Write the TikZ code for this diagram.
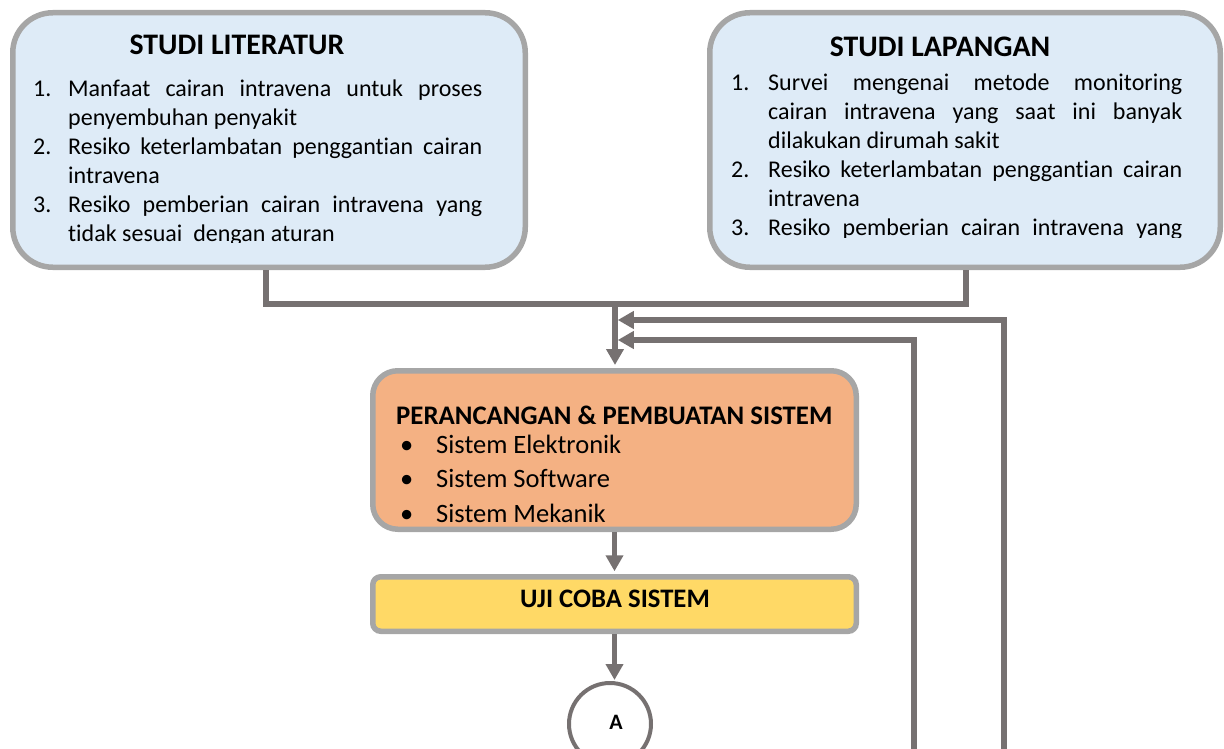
\documentclass[tikz,border=0pt]{standalone}
\usepackage{fontspec}
\setmainfont[Ligatures=NoCommon]{Carlito}
\usetikzlibrary{arrows.meta}
\definecolor{conncol}{HTML}{767171}
\definecolor{bordcol}{HTML}{A6A6A6}
\definecolor{bluefill}{HTML}{DEEBF7}
\definecolor{orangefill}{HTML}{F4B183}
\definecolor{yellowfill}{HTML}{FFD966}
\newcommand\jline[2]{\makebox[#1][s]{#2}}
\begin{document}
\begin{tikzpicture}[x=1pt,y=-1pt,
  box/.style={draw=bordcol,line width=5.5pt,rectangle,inner sep=0pt},
  conn/.style={draw=conncol,line width=5.5pt},
  arr/.style={conn,-{Triangle[length=16pt,width=17pt]}},
  ttl/.style={font=\fontsize{29.8pt}{34pt}\selectfont\bfseries,inner sep=0pt,anchor=base},
  body/.style={font=\fontsize{24pt}{29pt}\selectfont,inner sep=0pt,anchor=base west},
  sysbody/.style={font=\fontsize{26.5pt}{34.5pt}\selectfont,inner sep=0pt,anchor=base west}]
\useasboundingbox (0,0) rectangle (1224,749);

% connector coordinates
\coordinate (jl) at (266,304);
\coordinate (jr) at (966,304);
\coordinate (jc) at (615,304);
\coordinate (m1) at (615,320);
\coordinate (m2) at (615,340);
\coordinate (b1) at (1004,760);
\coordinate (b2) at (914,760);

% boxes
\node[box,fill=bluefill,rounded corners=40pt,minimum width=512.5pt,minimum height=254.5pt] (lit) at (269,140) {};
\node[box,fill=bluefill,rounded corners=40pt,minimum width=510.5pt,minimum height=254.5pt] (lap) at (965,140) {};
\node[box,fill=orangefill,rounded corners=25pt,minimum width=483.5pt,minimum height=158.5pt] (per) at (614.5,450) {};
\node[box,fill=yellowfill,rounded corners=8pt,minimum width=483.5pt,minimum height=54.5pt] (uji) at (614.5,604) {};
\node[circle,draw=conncol,line width=4pt,fill=white,minimum size=82pt,inner sep=0pt] (cA) at (610,724) {};

% connectors
\draw[conn] (lit.south -| jl) -- (jl) -- (jr) -- (lap.south -| jr);
\draw[arr,shorten >=3pt] (jc) -- (per.north -| jc);
\draw[arr,shorten >=2.75pt] (b1) |- (m1);
\draw[arr,shorten >=2.75pt] (b2) |- (m2);
\draw[arr,shorten >=2.75pt] (per.south) -- (uji.north);
\draw[arr,shorten >=1pt] (uji.south) -- (uji.south |- cA.north);

% texts of the upper boxes
\begin{scope}
\clip (0,0) rectangle (600,242.5);
\node[ttl] (litT) at (237,55) {STUDI LITERATUR};
\node[body] (litL) at (33,97) {\parbox[t]{449pt}{%
\makebox[35pt][l]{1.}\jline{414pt}{Manfaat cairan intravena untuk proses}\\
\hspace*{35pt}penyembuhan penyakit\\
\makebox[35pt][l]{2.}\jline{414pt}{Resiko keterlambatan penggantian cairan}\\
\hspace*{35pt}intravena\\
\makebox[35pt][l]{3.}\jline{414pt}{Resiko pemberian cairan intravena yang}\\
\hspace*{35pt}tidak sesuai\ \ dengan aturan}};
\end{scope}
\begin{scope}
\clip (600,0) rectangle (1224,237);
\node[ttl] (lapT) at (940,57) {STUDI LAPANGAN};
\node[body] (lapL) at (731,91) {\parbox[t]{451pt}{%
\makebox[37pt][l]{1.}\jline{414pt}{Survei mengenai metode monitoring}\\
\hspace*{37pt}\jline{414pt}{cairan intravena yang saat ini banyak}\\
\hspace*{37pt}dilakukan dirumah sakit\\
\makebox[37pt][l]{2.}\jline{414pt}{Resiko keterlambatan penggantian cairan}\\
\hspace*{37pt}intravena\\
\makebox[37pt][l]{3.}\jline{414pt}{Resiko pemberian cairan intravena yang}}};
\end{scope}

% system box texts
\node[font=\fontsize{26.8pt}{32pt}\selectfont\bfseries,inner sep=0pt,anchor=base west] (perT) at (396,424) {PERANCANGAN \& PEMBUATAN SISTEM};
\node[sysbody] (perL) at (400,453) {\parbox[t]{440pt}{%
\makebox[36pt][l]{•}Sistem Elektronik\\
\makebox[36pt][l]{•}Sistem Software\\
\makebox[36pt][l]{•}Sistem Mekanik}};
\node[font=\fontsize{26.7pt}{30pt}\selectfont\bfseries,inner sep=0pt,anchor=base] (ujiT) at (615,607) {UJI COBA SISTEM};
\node[font=\fontsize{22pt}{26pt}\selectfont\bfseries,inner sep=0pt,anchor=base] (aT) at (616,729) {A};
\end{tikzpicture}
\end{document}
